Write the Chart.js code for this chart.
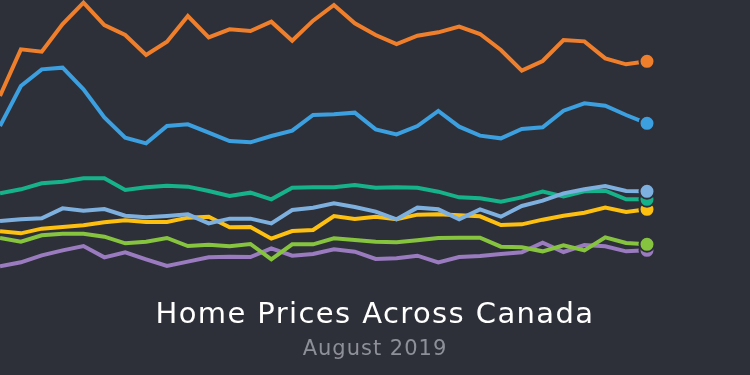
<!DOCTYPE html>
<html>
<head>
<meta charset="utf-8">
<script src="https://cdn.jsdelivr.net/npm/chart.js@4/dist/chart.umd.min.js"></script>
<style>
  html, body { margin: 0; padding: 0; background: #2e3039; }
  .wrap { position: relative; width: 750px; height: 375px; overflow: hidden; }
  .chart-box { position: absolute; left: 0; top: 0; width: 750px; height: 300px; }
  .title, .subtitle {
    position: absolute; left: 0; width: 750px; text-align: center;
    font-family: "DejaVu Sans", sans-serif; margin: 0;
  }
  .title { top: 299px; font-size: 29px; line-height: 29px; color: #ffffff; letter-spacing: 1.4px; }
  .subtitle { top: 338px; font-size: 21px; line-height: 21px; color: #8e9099; letter-spacing: 1px; }
</style>
</head>
<body>
<div class="wrap">
  <div class="chart-box"><canvas id="homePrices"></canvas></div>
  <div class="title">Home Prices Across Canada</div>
  <div class="subtitle">August 2019</div>
</div>
<script>
// months shown on the chart (x axis is hidden)
const months = [
  'Jan 2017','Feb 2017','Mar 2017','Apr 2017','May 2017','Jun 2017','Jul 2017','Aug 2017',
  'Sep 2017','Oct 2017','Nov 2017','Dec 2017','Jan 2018','Feb 2018','Mar 2018','Apr 2018',
  'May 2018','Jun 2018','Jul 2018','Aug 2018','Sep 2018','Oct 2018','Nov 2018','Dec 2018',
  'Jan 2019','Feb 2019','Mar 2019','Apr 2019','May 2019','Jun 2019','Jul 2019','Aug 2019'
];

// average price, $ thousands
const orangeSeries = [812, 952, 945, 1028, 1092, 1025, 995, 935, 975, 1052, 988, 1012, 1007, 1035, 978, 1038,
                      1085, 1030, 995, 968, 993, 1003, 1020, 998, 950, 888, 917, 980, 976, 925, 907, 916];
const blueSeries = [722, 842, 892, 897, 832, 748, 687, 670, 722, 727, 702, 677, 673, 692, 708, 755,
                    757, 762, 712, 697, 722, 767, 720, 693, 685, 713, 718, 768, 790, 783, 755, 730];
const tealSeries = [520, 532, 550, 555, 565, 565, 530, 538, 543, 540, 527, 512, 522, 502, 537, 538,
                    538, 545, 537, 538, 537, 525, 508, 505, 495, 508, 525, 511, 526, 528, 502, 502];
const skySeries = [437, 442, 445, 475, 468, 473, 453, 448, 452, 457, 430, 444, 444, 430, 470, 477,
                   490, 479, 465, 442, 477, 472, 442, 472, 450, 482, 498, 520, 532, 542, 527, 526];
const yellowSeries = [406, 400, 414, 419, 424, 433, 439, 434, 434, 447, 450, 418, 419, 384, 407, 410,
                      452, 443, 450, 442, 456, 457, 454, 451, 425, 427, 441, 453, 462, 477, 464, 472];
const greenSeries = [386, 375, 394, 399, 399, 390, 370, 375, 386, 362, 366, 361, 368, 322, 367, 367,
                     385, 380, 375, 373, 379, 386, 387, 387, 360, 358, 346, 364, 349, 388, 371, 367];
const purpleSeries = [301, 313, 334, 349, 362, 328, 343, 322, 302, 315, 328, 330, 329, 355, 333, 338,
                      352, 345, 323, 325, 333, 313, 329, 332, 338, 343, 372, 344, 365, 361, 346, 349];

const bg = '#2e3039';
const lastIdx = months.length - 1;

function makeLine(data, color) {
    return {
        data: data,
        borderColor: color,
        backgroundColor: color,
        borderWidth: 4,
        tension: 0,
        fill: false,
        clip: false,
        pointRadius: ctx => ctx.dataIndex === lastIdx ? 7.5 : 0,
        pointHoverRadius: 0,
        pointBorderColor: bg,
        pointBorderWidth: 2,
        pointBackgroundColor: color
    };
}

const ctx = document.getElementById('homePrices').getContext('2d');

new Chart(ctx, {
    type: 'line',
    data: {
        labels: months,
        datasets: [
            makeLine(orangeSeries, '#f07f2c'),
            makeLine(blueSeries, '#3c9fdf'),
            makeLine(skySeries, '#7eb0df'),
            makeLine(tealSeries, '#16b38a'),
            makeLine(yellowSeries, '#fdc010'),
            makeLine(greenSeries, '#86c43f'),
            makeLine(purpleSeries, '#9a7bbf')
        ]
    },
    options: {
        responsive: true,
        maintainAspectRatio: false,
        animation: false,
        layout: { autoPadding: false, padding: { left: 0, right: 103, top: 0, bottom: 0 } },
        scales: {
            x: { display: false },
            y: { display: false, min: 200, max: 1100 }
        },
        plugins: {
            legend: { display: false },
            tooltip: { enabled: false }
        }
    }
});
</script>
</body>
</html>
